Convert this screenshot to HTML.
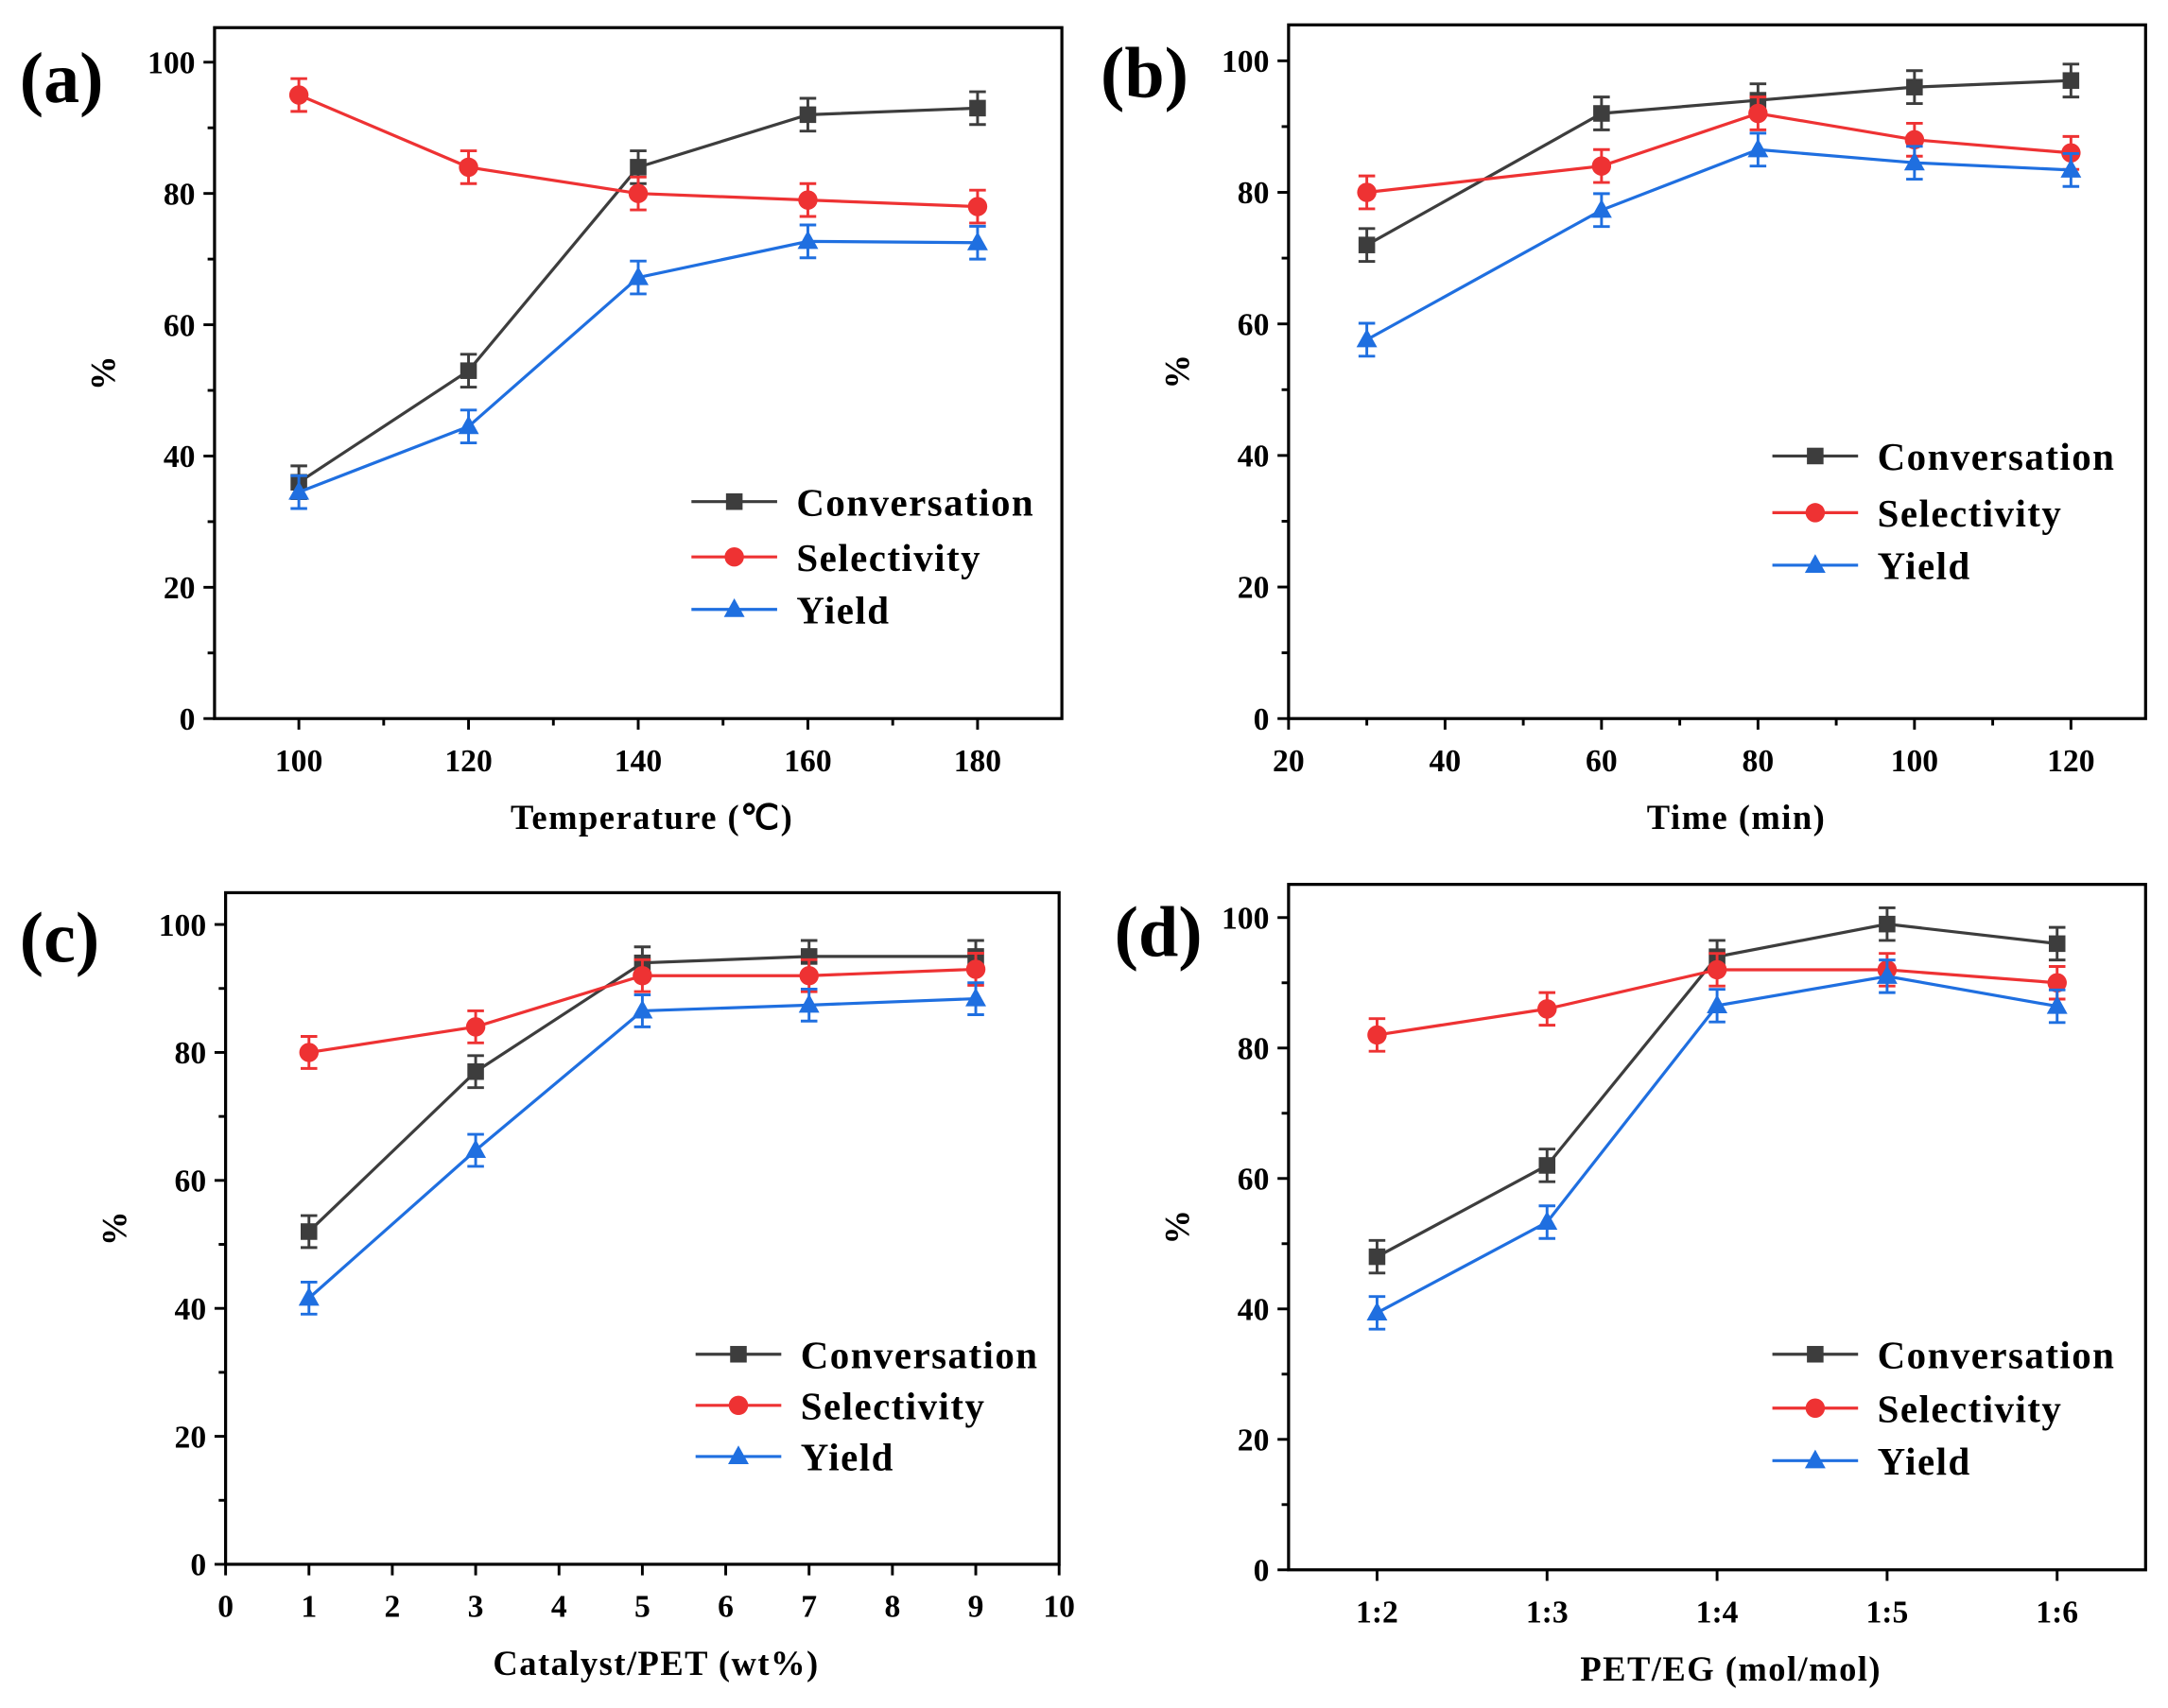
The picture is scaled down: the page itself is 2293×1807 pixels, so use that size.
<!DOCTYPE html>
<html><head><meta charset="utf-8"><style>
html,body{margin:0;padding:0;background:#fff;}
svg{display:block;}
text{font-family:"Liberation Serif",serif;font-weight:bold;fill:#000;}
</style></head><body>
<svg id="fig" width="2293" height="1807" viewBox="0 0 1568 1236" xmlns="http://www.w3.org/2000/svg"></svg>
<script>
const yTicks=[0,20,40,60,80,100];
const legendLabels=["Conversation","Selectivity","Yield"];
const aX=[100,120,140,160,180];
const aConv=[36,53,84,92,93];
const aSel=[95,84,80,79,78];
const aYield=[34.5,44.5,67.2,72.7,72.5];
const aTicks=[100,120,140,160,180];
const bX=[30,60,80,100,120];
const bConv=[72,92,94,96,97];
const bSel=[80,84,92,88,86];
const bYield=[57.6,77.3,86.5,84.5,83.4];
const bTicks=[20,40,60,80,100,120];
const cX=[1,3,5,7,9];
const cConv=[52,77,94,95,95];
const cSel=[80,84,92,92,93];
const cYield=[41.6,64.7,86.5,87.4,88.4];
const cTicks=[0,1,2,3,4,5,6,7,8,9,10];
const dCats=["1:2","1:3","1:4","1:5","1:6"];
const dConv=[48,62,94,99,96];
const dSel=[82,86,92,92,90];
const dYield=[39.4,53.3,86.5,91,86.4];
const errBar=2.5;

const svg=document.getElementById('fig');
const NS="http://www.w3.org/2000/svg";
function mk(tag,attrs,parent,txt){const e=document.createElementNS(NS,tag);for(const k in attrs)e.setAttribute(k,attrs[k]);if(txt!==undefined)e.textContent=txt;(parent||svg).appendChild(e);return e;}
const colors=["#3d3d3d","#ee3233","#1f6fe0"];

function marker(g,i,x,y){
  if(i===0) return mk('rect',{x:x-6,y:y-6,width:12,height:12,fill:colors[0]},g);
  if(i===1) return mk('circle',{cx:x,cy:y,r:7,fill:colors[1]},g);
  return mk('polygon',{points:`${x},${y-8} ${x-7.5},${y+5.5} ${x+7.5},${y+5.5}`,fill:colors[2]},g);
}

function panel(p){
  const g=mk('g',{});
  
  
  const sx=v=>p.x0+(v-p.xmin)/(p.xmax-p.xmin)*(p.x1-p.x0);
  const sy=v=>p.yb-(v/100)*(p.yb-p.y100);
  mk('rect',{x:p.L,y:p.T,width:p.R-p.L,height:p.B-p.T,fill:'none',stroke:'#000','stroke-width':2.2},g);
  yTicks.forEach(t=>{
    const y=sy(t);
    mk('line',{x1:p.L-8,x2:p.L,y1:y,y2:y,stroke:'#000','stroke-width':2},g);
    const tx=mk('text',{x:p.L-14,y:y+8,'text-anchor':'end','font-size':23},g,String(t));
    
    
    if(t<100) mk('line',{x1:p.L-5,x2:p.L,y1:sy(t+10),y2:sy(t+10),stroke:'#000','stroke-width':2},g);
  });
  p.ticks.forEach((t,k)=>{
    const x=sx(t);
    mk('line',{x1:x,x2:x,y1:p.B,y2:p.B+8,stroke:'#000','stroke-width':2},g);
    const tx=mk('text',{x:x,y:p.B+38,'text-anchor':'middle','font-size':23},g,p.tickLabels?p.tickLabels[k]:String(t));
    
    
  });
  (p.minor||[]).forEach(t=>{const x=sx(t);mk('line',{x1:x,x2:x,y1:p.B,y2:p.B+5,stroke:'#000','stroke-width':2},g);});
  const xt=mk('text',{x:(p.L+p.R)/2+p.xtOff,y:p.B+80,'text-anchor':'middle','font-size':25,'letter-spacing':1},g,p.xTitle);
  
  
  const yt=mk('text',{x:0,y:0,'text-anchor':'middle','font-size':25,transform:`translate(${p.L-72},${(p.T+p.B)/2}) rotate(-90)`},g,'%');
  
  
  const pl=mk('text',{x:p.lx,y:p.ly,'font-size':52},g,p.label);
  
  
  p.series.forEach((s,i)=>{
    const sg=mk('g',{},g);
    
    
    const pts=s.map((v,k)=>[sx(p.xs[k]),sy(v)]);
    mk('polyline',{points:pts.map(q=>q.join(',')).join(' '),fill:'none',stroke:colors[i],'stroke-width':2.2},sg);
    pts.forEach((q,k)=>{
      const v=s[k];
      const y1=sy(v+errBar),y2=sy(v-errBar);
      mk('path',{d:`M${q[0]},${y1}V${y2}M${q[0]-6},${y1}H${q[0]+6}M${q[0]-6},${y2}H${q[0]+6}`,stroke:colors[i],'stroke-width':2,fill:'none'},sg);
      const m=marker(sg,i,q[0],q[1]);
      
      
    });
  });
  legendLabels.forEach((lab,i)=>{
    const lg=mk('g',{},g);
    
    
    const y=p.legY[i];
    mk('line',{x1:p.legX,x2:p.legX+62,y1:y,y2:y,stroke:colors[i],'stroke-width':2.2},lg);
    marker(lg,i,p.legX+31,y);
    mk('text',{x:p.legX+76,y:y+10,'font-size':28,'letter-spacing':1},lg,lab);
  });
}

panel({id:'a',label:'(a)',lx:14,ly:74,L:155,R:768,T:20,B:520,yb:520,y100:45,xmin:100,xmax:180,x0:216,x1:707,
  xs:aX,series:[aConv,aSel,aYield],ticks:aTicks,minor:[110,130,150,170],xTitle:'Temperature (℃)',xtOff:10,
  legX:500,legY:[363,403,441]});
panel({id:'b',label:'(b)',lx:796,ly:70,L:932,R:1552,T:18,B:520,yb:520,y100:44,xmin:20,xmax:120,x0:932,x1:1498,
  xs:bX,series:[bConv,bSel,bYield],ticks:bTicks,minor:[30,50,70,90,110],xTitle:'Time (min)',xtOff:14,
  legX:1282,legY:[330,371,409]});
panel({id:'c',label:'(c)',lx:14,ly:696,L:163,R:766,T:646,B:1132,yb:1132,y100:669,xmin:0,xmax:10,x0:163,x1:766,
  xs:cX,series:[cConv,cSel,cYield],ticks:cTicks,minor:[],xTitle:'Catalyst/PET (wt%)',xtOff:10,
  legX:503,legY:[980,1017,1054]});
panel({id:'d',label:'(d)',lx:806,ly:692,L:932,R:1552,T:640,B:1136,yb:1136,y100:664,xmin:0,xmax:4,x0:996,x1:1488,
  xs:[0,1,2,3,4],series:[dConv,dSel,dYield],ticks:[0,1,2,3,4],tickLabels:dCats,minor:[],xTitle:'PET/EG (mol/mol)',xtOff:10,
  legX:1282,legY:[980,1019,1057]});
</script>
</body></html>
